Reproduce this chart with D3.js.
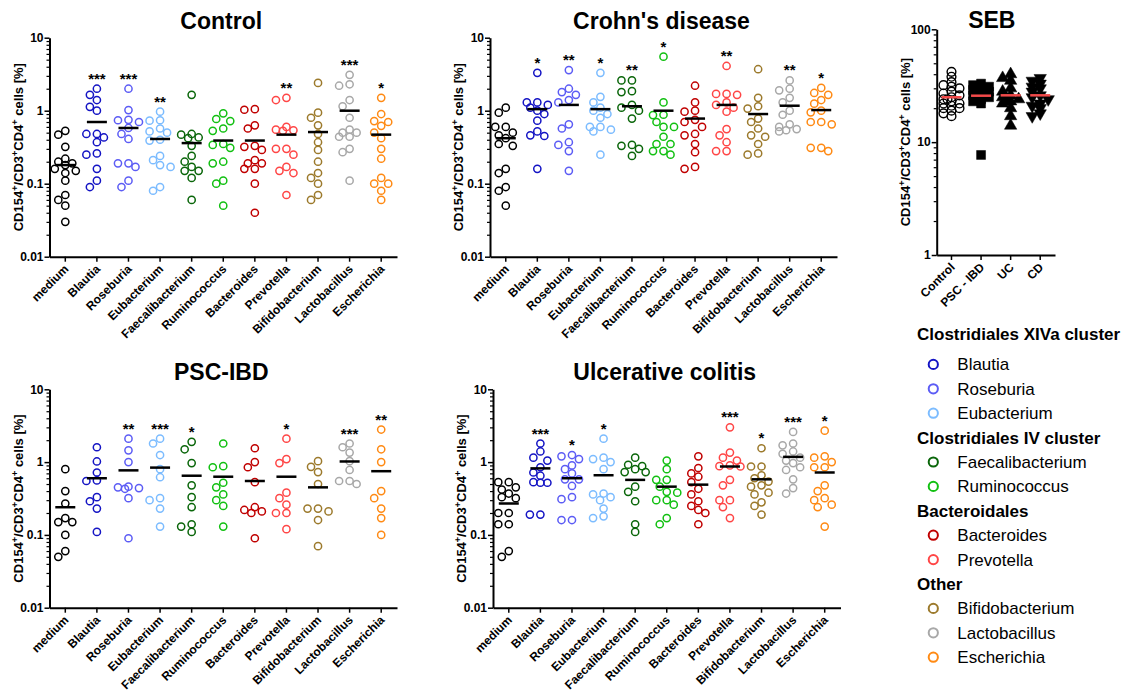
<!DOCTYPE html>
<html>
<head>
<meta charset="utf-8">
<title>CD154 responses to commensal bacteria</title>
<script src="https://d3js.org/d3.v7.min.js"></script>
<style>
  body { margin: 0; background: #fff; }
  svg { font-family: "Liberation Sans", Arial, sans-serif; }
  .axis path, .axis line { stroke: #000; }
  .axis text { font-weight: bold; fill: #000; }
</style>
</head>
<body>
<div id="chart"></div>
<script>

// categories and colours
var categories = ["medium", "Blautia", "Roseburia", "Eubacterium", "Faecalibacterium",
  "Ruminococcus", "Bacteroides", "Prevotella", "Bifidobacterium", "Lactobacillus", "Escherichia"];
var colors = ["#000000", "#1414c4", "#5c5cf5", "#7cbcff", "#0a660a", "#12c012",
  "#c00000", "#ff4646", "#9c7a2c", "#a8a8a8", "#ff8a14"];

// Control
var controlValues = [
  [0.53, 0.47, 0.32, 0.22, 0.2, 0.19, 0.18, 0.16, 0.15, 0.14, 0.11, 0.07, 0.06, 0.05, 0.03],
  [2.0, 1.65, 1.4, 1.13, 1.0, 0.48, 0.48, 0.43, 0.37, 0.26, 0.25, 0.16, 0.11, 0.09],
  [2.0, 1.02, 0.75, 0.74, 0.7, 0.58, 0.48, 0.41, 0.19, 0.19, 0.17, 0.11, 0.09],
  [0.97, 0.74, 0.73, 0.57, 0.52, 0.5, 0.4, 0.39, 0.24, 0.21, 0.18, 0.17, 0.09, 0.08],
  [1.65, 0.48, 0.47, 0.43, 0.42, 0.33, 0.24, 0.2, 0.17, 0.15, 0.15, 0.12, 0.06],
  [0.92, 0.77, 0.72, 0.57, 0.53, 0.35, 0.34, 0.31, 0.2, 0.19, 0.11, 0.1, 0.05],
  [1.05, 1.03, 0.63, 0.57, 0.33, 0.32, 0.29, 0.21, 0.19, 0.19, 0.16, 0.16, 0.1, 0.04],
  [1.5, 1.4, 0.6, 0.55, 0.54, 0.53, 0.3, 0.3, 0.25, 0.17, 0.15, 0.14, 0.07],
  [2.4, 0.94, 0.8, 0.63, 0.48, 0.37, 0.29, 0.2, 0.14, 0.12, 0.1, 0.07, 0.06],
  [3.1, 2.3, 2.2, 1.4, 1.15, 0.8, 0.55, 0.5, 0.5, 0.44, 0.44, 0.3, 0.27, 0.11],
  [1.5, 0.9, 0.72, 0.7, 0.62, 0.5, 0.42, 0.3, 0.22, 0.12, 0.1, 0.1, 0.08, 0.06]
];
var controlMeans = [0.18, 0.7, 0.58, 0.41, 0.36, 0.39, 0.39, 0.47, 0.51, 1.0, 0.47];
var controlStars = ["", "***", "***", "**", "", "", "", "**", "", "***", "*"];

// Crohn's disease
var crohnValues = [
  [1.1, 0.94, 0.6, 0.6, 0.5, 0.46, 0.42, 0.35, 0.33, 0.16, 0.14, 0.09, 0.08, 0.05],
  [3.3, 1.3, 1.3, 1.2, 1.1, 1.0, 0.9, 0.73, 0.52, 0.46, 0.45, 0.16],
  [3.6, 2.0, 1.8, 1.65, 1.4, 1.3, 0.65, 0.57, 0.37, 0.34, 0.28, 0.15],
  [3.3, 1.55, 1.3, 1.1, 1.0, 0.9, 0.8, 0.6, 0.6, 0.55, 0.52, 0.25],
  [2.6, 2.6, 1.85, 1.8, 1.2, 1.1, 1.0, 0.78, 0.34, 0.33, 0.3, 0.24],
  [5.5, 1.3, 0.88, 0.87, 0.7, 0.6, 0.6, 0.44, 0.35, 0.35, 0.28, 0.28, 0.25],
  [2.2, 1.3, 1.0, 0.97, 0.75, 0.7, 0.6, 0.48, 0.46, 0.35, 0.27, 0.17, 0.16],
  [4.1, 1.7, 1.7, 1.65, 1.3, 1.2, 1.1, 0.97, 0.56, 0.46, 0.37, 0.28, 0.28],
  [3.7, 1.5, 1.15, 1.07, 0.78, 0.7, 0.57, 0.46, 0.44, 0.35, 0.26, 0.25],
  [2.6, 2.0, 1.9, 1.5, 1.3, 1.0, 0.88, 0.65, 0.6, 0.56, 0.54, 0.52],
  [2.05, 1.75, 1.65, 1.4, 1.25, 1.0, 0.95, 0.7, 0.7, 0.65, 0.31, 0.31, 0.28]
];
var crohnMeans = [0.42, 1.05, 1.2, 1.05, 1.15, 1.0, 0.78, 1.2, 0.9, 1.17, 1.02];
var crohnStars = ["", "*", "**", "*", "**", "*", "", "**", "", "**", "*"];

// PSC-IBD
var pscValues = [
  [0.8, 0.4, 0.27, 0.17, 0.15, 0.15, 0.1, 0.06, 0.05],
  [1.6, 1.02, 0.72, 0.56, 0.55, 0.33, 0.29, 0.23, 0.11],
  [2.1, 1.45, 1.0, 0.46, 0.45, 0.44, 0.43, 0.32, 0.09],
  [2.1, 1.8, 1.25, 0.8, 0.62, 0.32, 0.3, 0.23, 0.13],
  [1.9, 1.5, 0.97, 0.48, 0.33, 0.24, 0.14, 0.13, 0.11],
  [1.8, 0.88, 0.85, 0.52, 0.45, 0.36, 0.3, 0.25, 0.13],
  [1.55, 1.0, 0.85, 0.53, 0.24, 0.22, 0.21, 0.2, 0.09],
  [2.1, 1.1, 0.97, 0.38, 0.32, 0.26, 0.2, 0.2, 0.12],
  [1.03, 0.86, 0.73, 0.5, 0.23, 0.23, 0.21, 0.16, 0.07],
  [1.8, 1.6, 1.35, 1.03, 0.78, 0.55, 0.55, 0.5],
  [2.8, 1.5, 1.0, 0.4, 0.32, 0.23, 0.17, 0.1]
];
var pscMeans = [0.24, 0.6, 0.77, 0.84, 0.65, 0.63, 0.55, 0.63, 0.45, 1.02, 0.75];
var pscStars = ["", "", "**", "***", "*", "", "", "*", "", "***", "**"];

// Ulcerative colitis
var ucValues = [
  [0.53, 0.53, 0.45, 0.42, 0.37, 0.33, 0.32, 0.2, 0.2, 0.14, 0.14, 0.06, 0.05],
  [1.8, 1.4, 1.15, 1.05, 0.85, 0.72, 0.65, 0.53, 0.52, 0.52, 0.19, 0.19],
  [1.25, 1.2, 1.1, 0.9, 0.8, 0.7, 0.58, 0.58, 0.47, 0.33, 0.31, 0.16, 0.16],
  [2.1, 1.15, 1.1, 1.0, 0.8, 0.37, 0.36, 0.33, 0.3, 0.23, 0.18, 0.17],
  [1.15, 0.92, 0.88, 0.8, 0.73, 0.73, 0.46, 0.39, 0.29, 0.14, 0.11],
  [1.05, 0.8, 0.57, 0.57, 0.46, 0.39, 0.38, 0.3, 0.3, 0.26, 0.17, 0.14],
  [1.2, 0.83, 0.7, 0.63, 0.53, 0.43, 0.36, 0.29, 0.25, 0.22, 0.2, 0.14],
  [3.0, 1.35, 1.15, 1.05, 0.9, 0.88, 0.87, 0.57, 0.48, 0.3, 0.3, 0.24, 0.17],
  [1.55, 0.87, 0.87, 0.66, 0.6, 0.54, 0.48, 0.46, 0.38, 0.36, 0.28, 0.25, 0.19],
  [2.6, 1.8, 1.7, 1.4, 1.3, 1.15, 1.05, 0.97, 0.85, 0.78, 0.58, 0.44, 0.37],
  [2.7, 1.2, 1.15, 1.0, 0.85, 0.85, 0.48, 0.4, 0.32, 0.3, 0.26, 0.24, 0.13]
];
var ucMeans = [0.27, 0.82, 0.6, 0.66, 0.57, 0.46, 0.49, 0.87, 0.58, 1.18, 0.72];
var ucStars = ["", "***", "*", "*", "", "", "", "***", "*", "***", "*"];

// SEB positive control
var sebGroups = ["Control", "PSC - IBD", "UC", "CD"];
var sebValues = [
  [42, 38, 34, 32, 31, 30, 28, 27, 26, 25, 24, 24, 23, 22, 22, 21, 20, 20, 19, 18, 17],
  [33, 32, 31, 30, 29, 28, 27, 26, 25, 24, 23, 22, 7.7],
  [40, 37, 35, 30, 28, 26, 25, 24, 24, 23, 22, 20, 17, 14],
  [37, 35, 33, 31, 30, 28, 26, 25, 24, 22, 21, 20, 18, 17]
];
var sebMeans = [25, 25.8, 26, 26];

// legend groups
var legendGroups = [
  {name: "Clostridiales XIVa cluster", items: [1, 2, 3]},
  {name: "Clostridiales IV cluster", items: [4, 5]},
  {name: "Bacteroidales", items: [6, 7]},
  {name: "Other", items: [8, 9, 10]}
];

var svg = d3.select("#chart").append("svg")
  .attr("width", 1134)
  .attr("height", 693);

// place the points of one column side by side where they would overlap
function swarm(vals, cx, y, dx, minDist) {
  var placed = [];
  var offs = [0, -dx, dx, -dx / 2, dx / 2, -1.5 * dx, 1.5 * dx];
  vals.slice().sort(d3.descending).forEach(function(v) {
    var py = y(v), best = cx, bestD = -1;
    for (var i = 0; i < offs.length; i++) {
      var px = cx + offs[i];
      var dmin = d3.min(placed, function(p) { return Math.hypot(p.x - px, p.y - py); });
      if (dmin === undefined || dmin >= minDist) { best = px; break; }
      if (dmin > bestD) { bestD = dmin; best = px; }
    }
    placed.push({x: best, y: py, v: v});
  });
  return placed;
}

function yLabel(g, x, y) {
  var t = g.append("text")
    .attr("transform", "translate(" + x + "," + y + ") rotate(-90)")
    .attr("text-anchor", "middle")
    .style("font-size", "13px")
    .style("font-weight", "bold");
  t.append("tspan").text("CD154");
  t.append("tspan").attr("dy", -5).style("font-size", "9px").text("+");
  t.append("tspan").attr("dy", 5).text("/CD3");
  t.append("tspan").attr("dy", -5).style("font-size", "9px").text("+");
  t.append("tspan").attr("dy", 5).text("CD4");
  t.append("tspan").attr("dy", -5).style("font-size", "9px").text("+");
  t.append("tspan").attr("dy", 5).text(" cells [%]");
}

function logAxes(g, y, left, majors, minors) {
  g.append("g").attr("class", "axis")
    .attr("transform", "translate(" + left + ",0)")
    .call(d3.axisLeft(y).tickValues(minors).tickSize(3).tickFormat(""))
    .call(function(a) { a.select(".domain").remove(); a.selectAll("line").attr("stroke-width", 1.2); });
  g.append("g").attr("class", "axis")
    .attr("transform", "translate(" + left + ",0)")
    .call(d3.axisLeft(y).tickValues(majors).tickSize(5).tickSizeOuter(0)
      .tickFormat(function(d) { return String(d); }))
    .call(function(a) {
      a.select(".domain").attr("stroke-width", 2);
      a.selectAll("line").attr("stroke-width", 1.5);
      a.selectAll("text").style("font-size", "12px").attr("x", -6);
    });
}

function bottomAxis(g, x, bottom) {
  g.append("g").attr("class", "axis")
    .attr("transform", "translate(0," + bottom + ")")
    .call(d3.axisBottom(x).tickSize(5).tickSizeOuter(0))
    .call(function(a) {
      a.select(".domain").attr("stroke-width", 2);
      a.selectAll("line").attr("stroke-width", 1.5);
      a.selectAll("text")
        .style("font-size", "12px")
        .attr("text-anchor", "end")
        .attr("y", 0).attr("dy", 0)
        .attr("transform", "translate(4,13) rotate(-45)");
    });
}

function drawPanel(p) {
  var g = svg.append("g");
  var x = d3.scaleBand().domain(categories).range([p.left, p.right]);
  var y = d3.scaleLog().domain([0.01, 10]).range([p.bottom, p.top]);

  var minors = [];
  [0.01, 0.1, 1].forEach(function(d) { for (var k = 2; k <= 9; k++) minors.push(d * k); });
  logAxes(g, y, p.left, [0.01, 0.1, 1, 10], minors);
  bottomAxis(g, x, p.bottom);

  categories.forEach(function(c, i) {
    var cx = x(c) + x.bandwidth() / 2;
    var pts = swarm(p.values[i], cx, y, 7, 7.6);
    g.selectAll(null).data(pts).enter().append("circle")
      .attr("cx", function(d) { return d.x; })
      .attr("cy", function(d) { return d.y; })
      .attr("r", 3.6)
      .attr("fill", "none")
      .attr("stroke", colors[i])
      .attr("stroke-width", 1.5);
    g.append("line")
      .attr("x1", cx - 10).attr("x2", cx + 10)
      .attr("y1", y(p.means[i])).attr("y2", y(p.means[i]))
      .attr("stroke", "#000").attr("stroke-width", 2.5);
    if (p.stars[i]) {
      g.append("text")
        .attr("x", cx)
        .attr("y", y(d3.max(p.values[i])) - 5)
        .attr("text-anchor", "middle")
        .style("font-size", "15px")
        .style("font-weight", "bold")
        .text(p.stars[i]);
    }
  });

  g.append("text")
    .attr("x", (p.left + p.right) / 2 - 2)
    .attr("y", p.top - 9)
    .attr("text-anchor", "middle")
    .style("font-size", "23px")
    .style("font-weight", "bold")
    .text(p.title);

  yLabel(g, p.left - 27, (p.top + p.bottom) / 2);
}

drawPanel({title: "Control", values: controlValues, means: controlMeans, stars: controlStars,
  left: 49.5, right: 397, top: 37.7, bottom: 256.7});
drawPanel({title: "Crohn's disease", values: crohnValues, means: crohnMeans, stars: crohnStars,
  left: 490, right: 837, top: 37.7, bottom: 256.7});
drawPanel({title: "PSC-IBD", values: pscValues, means: pscMeans, stars: pscStars,
  left: 49.5, right: 397, top: 389.3, bottom: 607.7});
drawPanel({title: "Ulcerative colitis", values: ucValues, means: ucMeans, stars: ucStars,
  left: 493, right: 840.5, top: 389.3, bottom: 607.7});

// SEB panel
(function() {
  var g = svg.append("g");
  var left = 936.7, right = 1055, top = 29.3, bottom = 255;
  var x = d3.scaleBand().domain(sebGroups).range([left, right]);
  var y = d3.scaleLog().domain([1, 100]).range([bottom, top]);
  var minors = [];
  [1, 10].forEach(function(d) { for (var k = 2; k <= 9; k++) minors.push(d * k); });
  logAxes(g, y, left, [1, 10, 100], minors);
  bottomAxis(g, x, bottom);

  var shapes = [d3.symbolCircle, d3.symbolSquare, d3.symbolTriangle, d3.symbolTriangle];
  sebGroups.forEach(function(c, i) {
    var cx = x(c) + x.bandwidth() / 2;
    var pts = swarm(sebValues[i], cx, y, 8, 4);
    g.selectAll(null).data(pts).enter().append("path")
      .attr("d", d3.symbol().type(shapes[i]).size(i === 0 ? 60 : (i === 1 ? 80 : 66)))
      .attr("transform", function(d) {
        return "translate(" + d.x + "," + d.y + ")" + (i === 3 ? " rotate(180)" : "");
      })
      .attr("fill", i === 0 ? "none" : "#000")
      .attr("stroke", "#000")
      .attr("stroke-width", i === 0 ? 1.4 : 0.5);
    g.append("line")
      .attr("x1", cx - 10).attr("x2", cx + 10)
      .attr("y1", y(sebMeans[i])).attr("y2", y(sebMeans[i]))
      .attr("stroke", "#f24a4a").attr("stroke-width", 2.5);
  });

  g.append("text")
    .attr("x", (left + right) / 2 - 4)
    .attr("y", 28)
    .attr("text-anchor", "middle")
    .style("font-size", "23px")
    .style("font-weight", "bold")
    .text("SEB");

  yLabel(g, left - 27, (top + bottom) / 2);
})();

// legend
var lg = svg.append("g");
var row = 0;
legendGroups.forEach(function(grp, gi) {
  var ry = 340 + row * 24.4 - (gi === 0 ? 6 : 0);
  lg.append("text")
    .attr("x", 917).attr("y", ry + 6)
    .style("font-size", "17px").style("font-weight", "bold")
    .text(grp.name);
  row++;
  grp.items.forEach(function(ci) {
    var iy = 340 + row * 24.4;
    lg.append("circle")
      .attr("cx", 933.3).attr("cy", iy).attr("r", 4.6)
      .attr("fill", "none").attr("stroke", colors[ci]).attr("stroke-width", 2);
    lg.append("text")
      .attr("x", 957.3).attr("y", iy + 6)
      .style("font-size", "17px")
      .text(categories[ci]);
    row++;
  });
});

</script>
</body>
</html>
